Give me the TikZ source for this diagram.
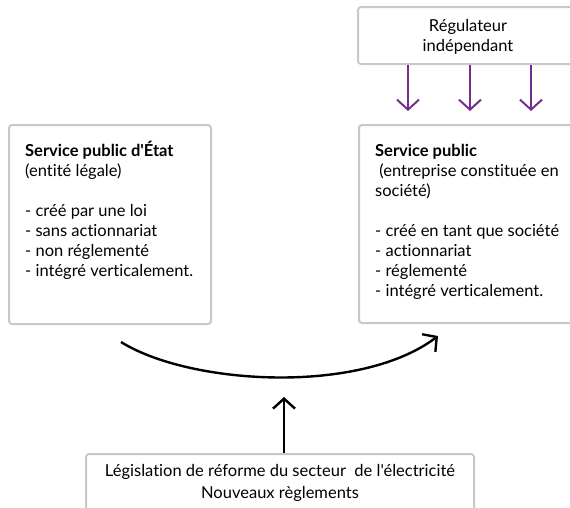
\documentclass[tikz,border=0pt]{standalone}
\usepackage{fontspec}
\setmainfont{Lato}[Ligatures={NoCommon,TeXOff}]
\usetikzlibrary{arrows.meta}
\definecolor{boxgray}{RGB}{200,200,200}
\definecolor{regpurple}{RGB}{120,45,140}
\begin{document}
\begin{tikzpicture}[x=1pt,y=-1pt,
  panel/.style={draw=boxgray, line width=2pt, rounded corners=3pt, fill=white, inner sep=0pt, anchor=north west},
  txt/.style={font=\fontsize{16.5}{20}\selectfont, align=left, inner sep=0pt, anchor=base west},
  ctxt/.style={font=\fontsize{16.5}{20}\selectfont, align=center, inner sep=0pt, anchor=base},
  regarrow/.style={draw=regpurple, line width=2pt, -{Straight Barb[length=10pt,width=22pt,line width=2pt]}},
  flowarrow/.style={draw=black, line width=2.4pt, -{Straight Barb[length=10pt,width=22pt,line width=2.4pt]}}
]
\useasboundingbox (0,0) rectangle (570,507);
\clip (0,0) rectangle (570,507);
% boxes
\node[panel, minimum width=240pt, minimum height=57pt] (reg) at (357,6) {};
\node[panel, minimum width=202pt, minimum height=199pt] (left) at (8,124) {};
\node[panel, minimum width=240pt, minimum height=198pt] (right) at (358,124) {};
\node[panel, minimum width=388pt, minimum height=80pt] (bottom) at (85,453) {};
% texts (anchored at the baseline of their last line)
\node[ctxt] (regt) at (468,51) {Régulateur\\indépendant};
\node[txt] (leftt) at (25,276) {\textbf{Service public d'État}\\(entité légale)\\[20pt]- créé par une loi\\- sans actionnariat\\- non réglementé\\- intégré verticalement.};
\node[txt] (rightt) at (375,296) {\textbf{Service public}\\\ (entreprise constituée en\\société)\\[20pt]- créé en tant que société\\- actionnariat\\- réglementé\\- intégré verticalement.};
\node[ctxt, font=\fontsize{16.5}{22}\selectfont] (bottomt) at (280,498) {Législation de réforme du secteur\ \ de l'électricité\\Nouveaux règlements};
% regulator arrows
\coordinate (a1) at (408,111);
\coordinate (a2) at (470,111);
\coordinate (a3) at (531,111);
\draw[regarrow] (reg.south west -| a1) -- (a1);
\draw[regarrow] (reg.south west -| a2) -- (a2);
\draw[regarrow] (reg.south west -| a3) -- (a3);
% curved arrow
\coordinate (cs) at (121,342);
\coordinate (ce) at (438,336);
\draw[flowarrow] (cs) .. controls (190,385) and (360,395) .. (ce);
% vertical arrow
\coordinate (vt) at (284,397);
\draw[flowarrow] (bottom.north west -| vt) -- (vt);
\end{tikzpicture}
\end{document}
